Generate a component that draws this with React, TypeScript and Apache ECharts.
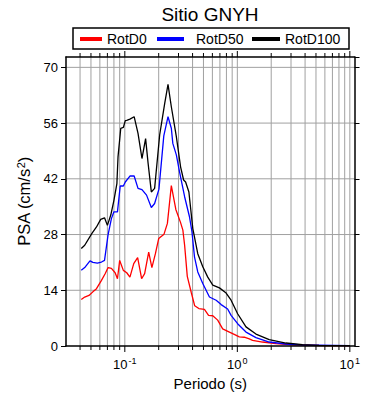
import React, { useEffect, useRef } from "react";
import * as echarts from "echarts";

const periodsD0 = [0.041, 0.044, 0.048, 0.052, 0.056, 0.062, 0.067, 0.071, 0.076, 0.082, 0.086, 0.09, 0.097, 0.104, 0.111, 0.12, 0.13, 0.141, 0.15, 0.163, 0.174, 0.187, 0.2, 0.223, 0.239, 0.259, 0.284, 0.313, 0.328, 0.34, 0.359, 0.389, 0.418, 0.455, 0.51, 0.555, 0.605, 0.669, 0.741, 0.85, 0.909, 1.041, 1.153, 1.277, 1.366, 1.675, 2.2, 3.09, 5.3, 10];
const rotD0 = [11.7, 12.3, 12.7, 13.6, 14.4, 16.5, 18.2, 19.7, 19.5, 18.4, 16.9, 21.5, 19.0, 18.4, 17.3, 20.7, 22.2, 16.9, 18.2, 23.6, 19.7, 23.2, 27.0, 28.1, 30.8, 40.3, 34.3, 31.0, 29.1, 25.3, 17.5, 13.5, 10.1, 9.4, 9.2, 7.7, 7.6, 6.5, 4.3, 3.5, 3.1, 2.3, 2.2, 1.8, 1.4, 1.0, 0.6, 0.3, 0.12, 0.05];

const periodsD50 = [0.041, 0.044, 0.049, 0.052, 0.057, 0.062, 0.066, 0.071, 0.076, 0.08, 0.086, 0.091, 0.097, 0.101, 0.111, 0.121, 0.131, 0.142, 0.156, 0.172, 0.184, 0.201, 0.222, 0.242, 0.259, 0.267, 0.287, 0.307, 0.34, 0.376, 0.395, 0.416, 0.445, 0.493, 0.565, 0.648, 0.718, 0.82, 0.88, 1.006, 1.194, 1.464, 1.919, 2.7, 3.79, 10];
const rotD50 = [19.0, 19.7, 21.4, 21.0, 20.8, 21.1, 21.5, 28.0, 32.0, 33.7, 33.7, 40.2, 40.2, 41.2, 42.7, 42.7, 39.6, 39.3, 37.9, 34.8, 35.8, 39.4, 52.8, 57.6, 54.7, 50.9, 48.0, 43.6, 37.5, 32.4, 28.7, 22.4, 18.6, 15.7, 12.3, 11.5, 10.4, 9.3, 7.7, 5.6, 3.5, 2.1, 1.0, 0.5, 0.25, 0.1];

const periodsD100 = [0.041, 0.044, 0.051, 0.056, 0.061, 0.066, 0.07, 0.075, 0.08, 0.085, 0.087, 0.092, 0.097, 0.101, 0.104, 0.111, 0.121, 0.131, 0.142, 0.153, 0.161, 0.172, 0.184, 0.204, 0.226, 0.242, 0.259, 0.287, 0.313, 0.333, 0.347, 0.371, 0.402, 0.445, 0.493, 0.546, 0.605, 0.693, 0.795, 0.88, 1.006, 1.194, 1.464, 1.919, 2.7, 3.79, 5.32, 10];
const rotD100 = [24.5, 25.3, 28.3, 29.9, 31.8, 32.2, 30.3, 32.9, 36.6, 40.8, 47.5, 54.7, 54.9, 56.6, 56.7, 57.0, 57.6, 53.4, 47.1, 52.1, 45.9, 38.7, 39.6, 53.0, 60.9, 65.7, 60.1, 52.6, 45.0, 41.7, 41.2, 38.7, 29.5, 23.2, 19.9, 17.3, 15.3, 14.6, 13.3, 11.5, 8.1, 4.8, 3.0, 1.6, 0.75, 0.35, 0.18, 0.1];

const xGridValues = [0.04, 0.05, 0.06, 0.07, 0.08, 0.09, 0.1, 0.2, 0.3, 0.4, 0.5, 0.6, 0.7, 0.8, 0.9, 1, 2, 3, 4, 5, 6, 7, 8, 9, 10];
const xMajorValues = [0.1, 1, 10];
const yTickValues = [14, 28, 42, 56, 70];

const X_MIN = 0.03;
const X_MAX = 11;
const Y_MIN = 0;
const Y_MAX = 72.6;

const FONT = "Liberation Sans, Arial, Helvetica, sans-serif";

export default function App() {
  const ref = useRef<HTMLDivElement>(null);

  useEffect(() => {
    document.body.style.margin = "0";
    const chart = echarts.init(ref.current!, null, { renderer: "svg" });

    const toPairs = (xs: number[], ys: number[]) => xs.map((x, i) => [x, ys[i]]);

    const vGridRender = (params: any, api: any) => {
      const x = api.value(0);
      const major = xMajorValues.some((m) => Math.abs(m - x) < 1e-9);
      const top = api.coord([x, Y_MAX]);
      const bot = api.coord([x, Y_MIN]);
      const tl = major ? 6 : 4;
      return {
        type: "group",
        children: [
          {
            type: "line",
            shape: { x1: bot[0], y1: bot[1], x2: top[0], y2: top[1] },
            style: { stroke: "#a0a0a0", lineWidth: 1 },
          },
          {
            type: "line",
            shape: { x1: bot[0], y1: bot[1], x2: bot[0], y2: bot[1] + tl },
            style: { stroke: "#000", lineWidth: 1 },
          },
          {
            type: "line",
            shape: { x1: top[0], y1: top[1], x2: top[0], y2: top[1] - tl },
            style: { stroke: "#000", lineWidth: 1 },
          },
        ],
      };
    };

    const hGridRender = (params: any, api: any) => {
      const y = api.value(1);
      const a = api.coord([X_MIN, y]);
      const b = api.coord([X_MAX, y]);
      return {
        type: "line",
        shape: { x1: a[0], y1: a[1], x2: b[0], y2: b[1] },
        style: { stroke: "#a0a0a0", lineWidth: 1 },
      };
    };

    const legendBase = {
      top: 31,
      padding: 0,
      icon: "rect",
      itemHeight: 4,
      selectedMode: false,
      textStyle: { fontSize: 14, color: "#000", fontFamily: FONT, lineHeight: 16 },
    };

    chart.setOption({
      animation: false,
      textStyle: { fontFamily: FONT },
      graphic: [
        {
          type: "text",
          x: 210,
          y: 14,
          style: {
            text: "Sitio GNYH",
            fontSize: 19,
            fontFamily: FONT,
            fill: "#000",
            textAlign: "center",
            textVerticalAlign: "middle",
          },
        },
        {
          type: "rect",
          shape: { x: 73, y: 28, width: 276, height: 21 },
          style: { fill: "none", stroke: "#000", lineWidth: 1.5 },
        },
      ],
      legend: [
        { ...legendBase, left: 80, itemWidth: 22, data: ["RotD0"] },
        { ...legendBase, left: 157, itemWidth: 27, data: ["RotD50"], textStyle: { ...legendBase.textStyle, padding: [0, 0, 0, 7] } },
        { ...legendBase, left: 252, itemWidth: 28, data: ["RotD100"] },
      ],
      grid: { left: 66, right: 35.5, top: 57, bottom: 54 },
      xAxis: [
        {
          type: "log",
          logBase: 10,
          min: X_MIN,
          max: X_MAX,
          position: "bottom",
          z: 10,
          axisLine: { show: true, onZero: false, lineStyle: { color: "#000", width: 1.5 } },
          axisTick: { show: false },
          splitLine: { show: false },
          minorTick: { show: false },
          axisLabel: {
            margin: 10,
            showMinLabel: false,
            showMaxLabel: false,
            formatter: (v: number) => {
              const l = Math.log10(v);
              const e = Math.round(l);
              if (Math.abs(l - e) > 1e-6) return "";
              return `{b|10}{s|${e}}`;
            },
            rich: {
              b: { fontSize: 13, color: "#000", fontFamily: FONT, lineHeight: 16 },
              s: { fontSize: 9, color: "#000", fontFamily: FONT, verticalAlign: "top", lineHeight: 9, padding: [0, 0, 0, 1] },
            },
          },
          name: "Periodo (s)",
          nameLocation: "middle",
          nameGap: 30,
          nameTextStyle: { fontSize: 15, color: "#000", fontFamily: FONT },
        },
        {
          type: "log",
          logBase: 10,
          min: X_MIN,
          max: X_MAX,
          position: "top",
          z: 10,
          axisLine: { show: true, onZero: false, lineStyle: { color: "#000", width: 1.5 } },
          axisTick: { show: false },
          splitLine: { show: false },
          axisLabel: { show: false },
        },
      ],
      yAxis: [
        {
          type: "value",
          min: Y_MIN,
          max: Y_MAX,
          interval: 14,
          position: "left",
          z: 10,
          axisLine: { show: true, onZero: false, lineStyle: { color: "#000", width: 1.5 } },
          axisTick: { show: true, inside: false, length: 5, lineStyle: { color: "#000", width: 1 } },
          splitLine: { show: false },
          axisLabel: {
            margin: 8,
            fontSize: 13,
            color: "#000",
            fontFamily: FONT,
            showMaxLabel: false,
            formatter: (v: number) => (v % 14 === 0 ? String(v) : ""),
          },
          name: "PSA (cm/s{s|2})",
          nameLocation: "middle",
          nameGap: 27,
          nameTextStyle: {
            fontSize: 16.5,
            color: "#000",
            fontFamily: FONT,
            rich: { s: { fontSize: 11, color: "#000", fontFamily: FONT, verticalAlign: "top", lineHeight: 10 } },
          },
        },
        {
          type: "value",
          min: Y_MIN,
          max: Y_MAX,
          interval: 14,
          position: "right",
          z: 10,
          axisLine: { show: true, onZero: false, lineStyle: { color: "#000", width: 1.5 } },
          axisTick: { show: true, inside: false, length: 5, lineStyle: { color: "#000", width: 1 } },
          splitLine: { show: false },
          axisLabel: { show: false },
        },
      ],
      series: [
        {
          type: "custom",
          name: "vgrid",
          renderItem: vGridRender,
          data: xGridValues.map((v) => [v, Y_MIN]),
          z: 1,
          silent: true,
          clip: false,
        },
        {
          type: "custom",
          name: "hgrid",
          renderItem: hGridRender,
          data: yTickValues.map((v) => [X_MIN, v]),
          z: 1,
          silent: true,
          clip: false,
        },
        {
          type: "line",
          name: "RotD0",
          data: toPairs(periodsD0, rotD0),
          showSymbol: false,
          lineStyle: { color: "#ff0000", width: 1.3 },
          itemStyle: { color: "#ff0000" },
          z: 3,
        },
        {
          type: "line",
          name: "RotD50",
          data: toPairs(periodsD50, rotD50),
          showSymbol: false,
          lineStyle: { color: "#0000ff", width: 1.3 },
          itemStyle: { color: "#0000ff" },
          z: 4,
        },
        {
          type: "line",
          name: "RotD100",
          data: toPairs(periodsD100, rotD100),
          showSymbol: false,
          lineStyle: { color: "#000000", width: 1.3 },
          itemStyle: { color: "#000000" },
          z: 5,
        },
      ],
    });

    return () => chart.dispose();
  }, []);

  return <div ref={ref} style={{ width: 390, height: 400 }} />;
}
